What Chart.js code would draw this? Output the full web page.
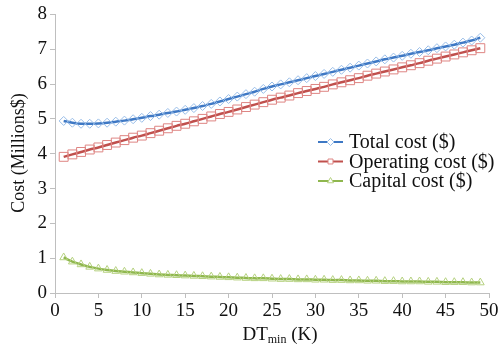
<!DOCTYPE html>
<html>
<head>
<meta charset="utf-8">
<script src="https://cdn.jsdelivr.net/npm/chart.js@4/dist/chart.umd.min.js"></script>
<style>
  html, body { margin: 0; padding: 0; background: #fff; }
  #wrap { width: 503px; height: 349px; }
</style>
</head>
<body>
<div id="wrap"><canvas id="c" width="503" height="349"></canvas></div>
<script>
// DTmin (K)
const dtMin = [1,2,3,4,5,6,7,8,9,10,11,12,13,14,15,16,17,18,19,20,21,22,23,24,25,
  26,27,28,29,30,31,32,33,34,35,36,37,38,39,40,41,42,43,44,45,46,47,48,49];

// Costs in millions of dollars
const totalCost = [4.94,4.89,4.86,4.86,4.87,4.89,4.92,4.95,4.99,5.03,5.08,5.12,5.17,5.21,5.26,5.31,5.37,5.43,5.50,5.57,
  5.64,5.71,5.78,5.86,5.93,5.99,6.05,6.11,6.17,6.23,6.29,6.35,6.41,6.47,6.53,6.59,6.65,6.71,6.76,6.81,
  6.87,6.92,6.97,7.03,7.08,7.13,7.19,7.25,7.33];
const operatingCost = [3.91,3.98,4.05,4.12,4.18,4.25,4.32,4.39,4.46,4.52,4.59,4.66,4.73,4.80,4.86,4.93,5.00,5.07,5.14,5.20,
  5.27,5.34,5.41,5.48,5.55,5.61,5.67,5.74,5.80,5.86,5.92,5.99,6.05,6.11,6.17,6.24,6.30,6.36,6.42,6.48,
  6.54,6.60,6.67,6.73,6.79,6.85,6.91,6.97,7.03];
const capitalCost = [1.02,0.90,0.82,0.75,0.70,0.66,0.63,0.61,0.59,0.57,0.55,0.53,0.52,0.51,0.50,0.49,0.48,0.47,0.46,0.45,
  0.44,0.43,0.42,0.42,0.41,0.40,0.40,0.39,0.39,0.38,0.38,0.37,0.37,0.36,0.36,0.35,0.35,0.34,0.34,0.33,
  0.33,0.33,0.32,0.32,0.31,0.31,0.31,0.30,0.30];

const seriesLabels = ['Total cost ($)', 'Operating cost ($)', 'Capital cost ($)'];
const xTicks = [0,5,10,15,20,25,30,35,40,45,50];
const yTicks = [0,1,2,3,4,5,6,7,8];

const SERIF = '"Liberation Serif", "Times New Roman", serif';
const AXIS_GREY = '#bfbfbf';
const INK = '#111';

function pts(ys) { return dtMin.map((x, i) => ({ x: x, y: ys[i] })); }

function series(label, ys, line, marker, style, r) {
  return {
    label: label,
    data: pts(ys),
    borderColor: line,
    borderWidth: 2.5,
    backgroundColor: 'rgba(255,255,255,0)',
    pointStyle: style,
    pointRadius: r,
    pointBorderColor: marker,
    pointBackgroundColor: 'rgba(255,255,255,0)',
    pointBorderWidth: 1,
    tension: 0.3,
    fill: false
  };
}

// Legend with line + marker swatches, and the axis titles
const decorations = {
  id: 'decorations',
  afterDraw(chart) {
    const ctx = chart.ctx;
    ctx.save();
    const rows = [142, 161.5, 181];
    chart.data.datasets.forEach((ds, i) => {
      const y = rows[i];
      ctx.strokeStyle = ds.borderColor;
      ctx.lineWidth = 2;
      ctx.beginPath();
      ctx.moveTo(318, y);
      ctx.lineTo(343, y);
      ctx.stroke();
      ctx.strokeStyle = ds.pointBorderColor;
      ctx.fillStyle = '#ffffff';
      ctx.lineWidth = 1;
      Chart.helpers.drawPoint(ctx, { pointStyle: ds.pointStyle, radius: 3.5, rotation: 0, borderWidth: 1 }, 330.5, y);
      ctx.fillStyle = INK;
      ctx.font = '20px ' + SERIF;
      ctx.textBaseline = 'middle';
      ctx.textAlign = 'left';
      ctx.fillText(ds.label, 349, y + 1);
    });

    // x-axis title: DT with subscript "min"
    const big = '19px ' + SERIF, small = '12px ' + SERIF;
    ctx.font = big; const w1 = ctx.measureText('DT').width;
    ctx.font = small; const w2 = ctx.measureText('min').width;
    ctx.font = big; const w3 = ctx.measureText(' (K)').width;
    let x = 280 - (w1 + w2 + w3) / 2;
    const base = 340;
    ctx.textBaseline = 'alphabetic';
    ctx.textAlign = 'left';
    ctx.fillStyle = INK;
    ctx.font = big; ctx.fillText('DT', x, base); x += w1;
    ctx.font = small; ctx.fillText('min', x, base + 3); x += w2;
    ctx.font = big; ctx.fillText(' (K)', x, base);

    // y-axis title
    ctx.translate(19, 153);
    ctx.rotate(-Math.PI / 2);
    ctx.font = '18px ' + SERIF;
    ctx.textAlign = 'center';
    ctx.textBaseline = 'middle';
    ctx.fillText('Cost (Millions$)', 0, 0);
    ctx.restore();
  }
};

new Chart(document.getElementById('c'), {
  type: 'line',
  data: {
    datasets: [
      series(seriesLabels[0], totalCost, '#3e78c4', '#98bde8', 'rectRot', 4.5),
      series(seriesLabels[1], operatingCost, '#c0504d', '#de8583', 'rect', 6.3),
      series(seriesLabels[2], capitalCost, '#8fb74e', '#b5d17f', 'triangle', 4.5)
    ]
  },
  options: {
    responsive: false,
    animation: false,
    layout: { padding: { top: 14, right: 14, left: 0, bottom: 0 } },
    plugins: { legend: { display: false }, tooltip: { enabled: false } },
    scales: {
      x: {
        type: 'linear',
        min: 0, max: 50,
        afterBuildTicks: s => { s.ticks = xTicks.map(v => ({ value: v })); },
        afterFit: s => { s.height = 56; },
        ticks: { font: { family: SERIF, size: 19 }, color: INK, padding: 2, maxRotation: 0 },
        grid: { drawOnChartArea: false, drawTicks: true, tickLength: 5, color: AXIS_GREY },
        border: { color: AXIS_GREY, width: 1 }
      },
      y: {
        min: 0, max: 8,
        afterBuildTicks: s => { s.ticks = yTicks.map(v => ({ value: v })); },
        afterFit: s => { s.width = 55; },
        ticks: { font: { family: SERIF, size: 19 }, color: INK, padding: 3 },
        grid: { drawOnChartArea: false, drawTicks: true, tickLength: 5, color: AXIS_GREY },
        border: { color: AXIS_GREY, width: 1 }
      }
    }
  },
  plugins: [decorations]
});
</script>
</body>
</html>
